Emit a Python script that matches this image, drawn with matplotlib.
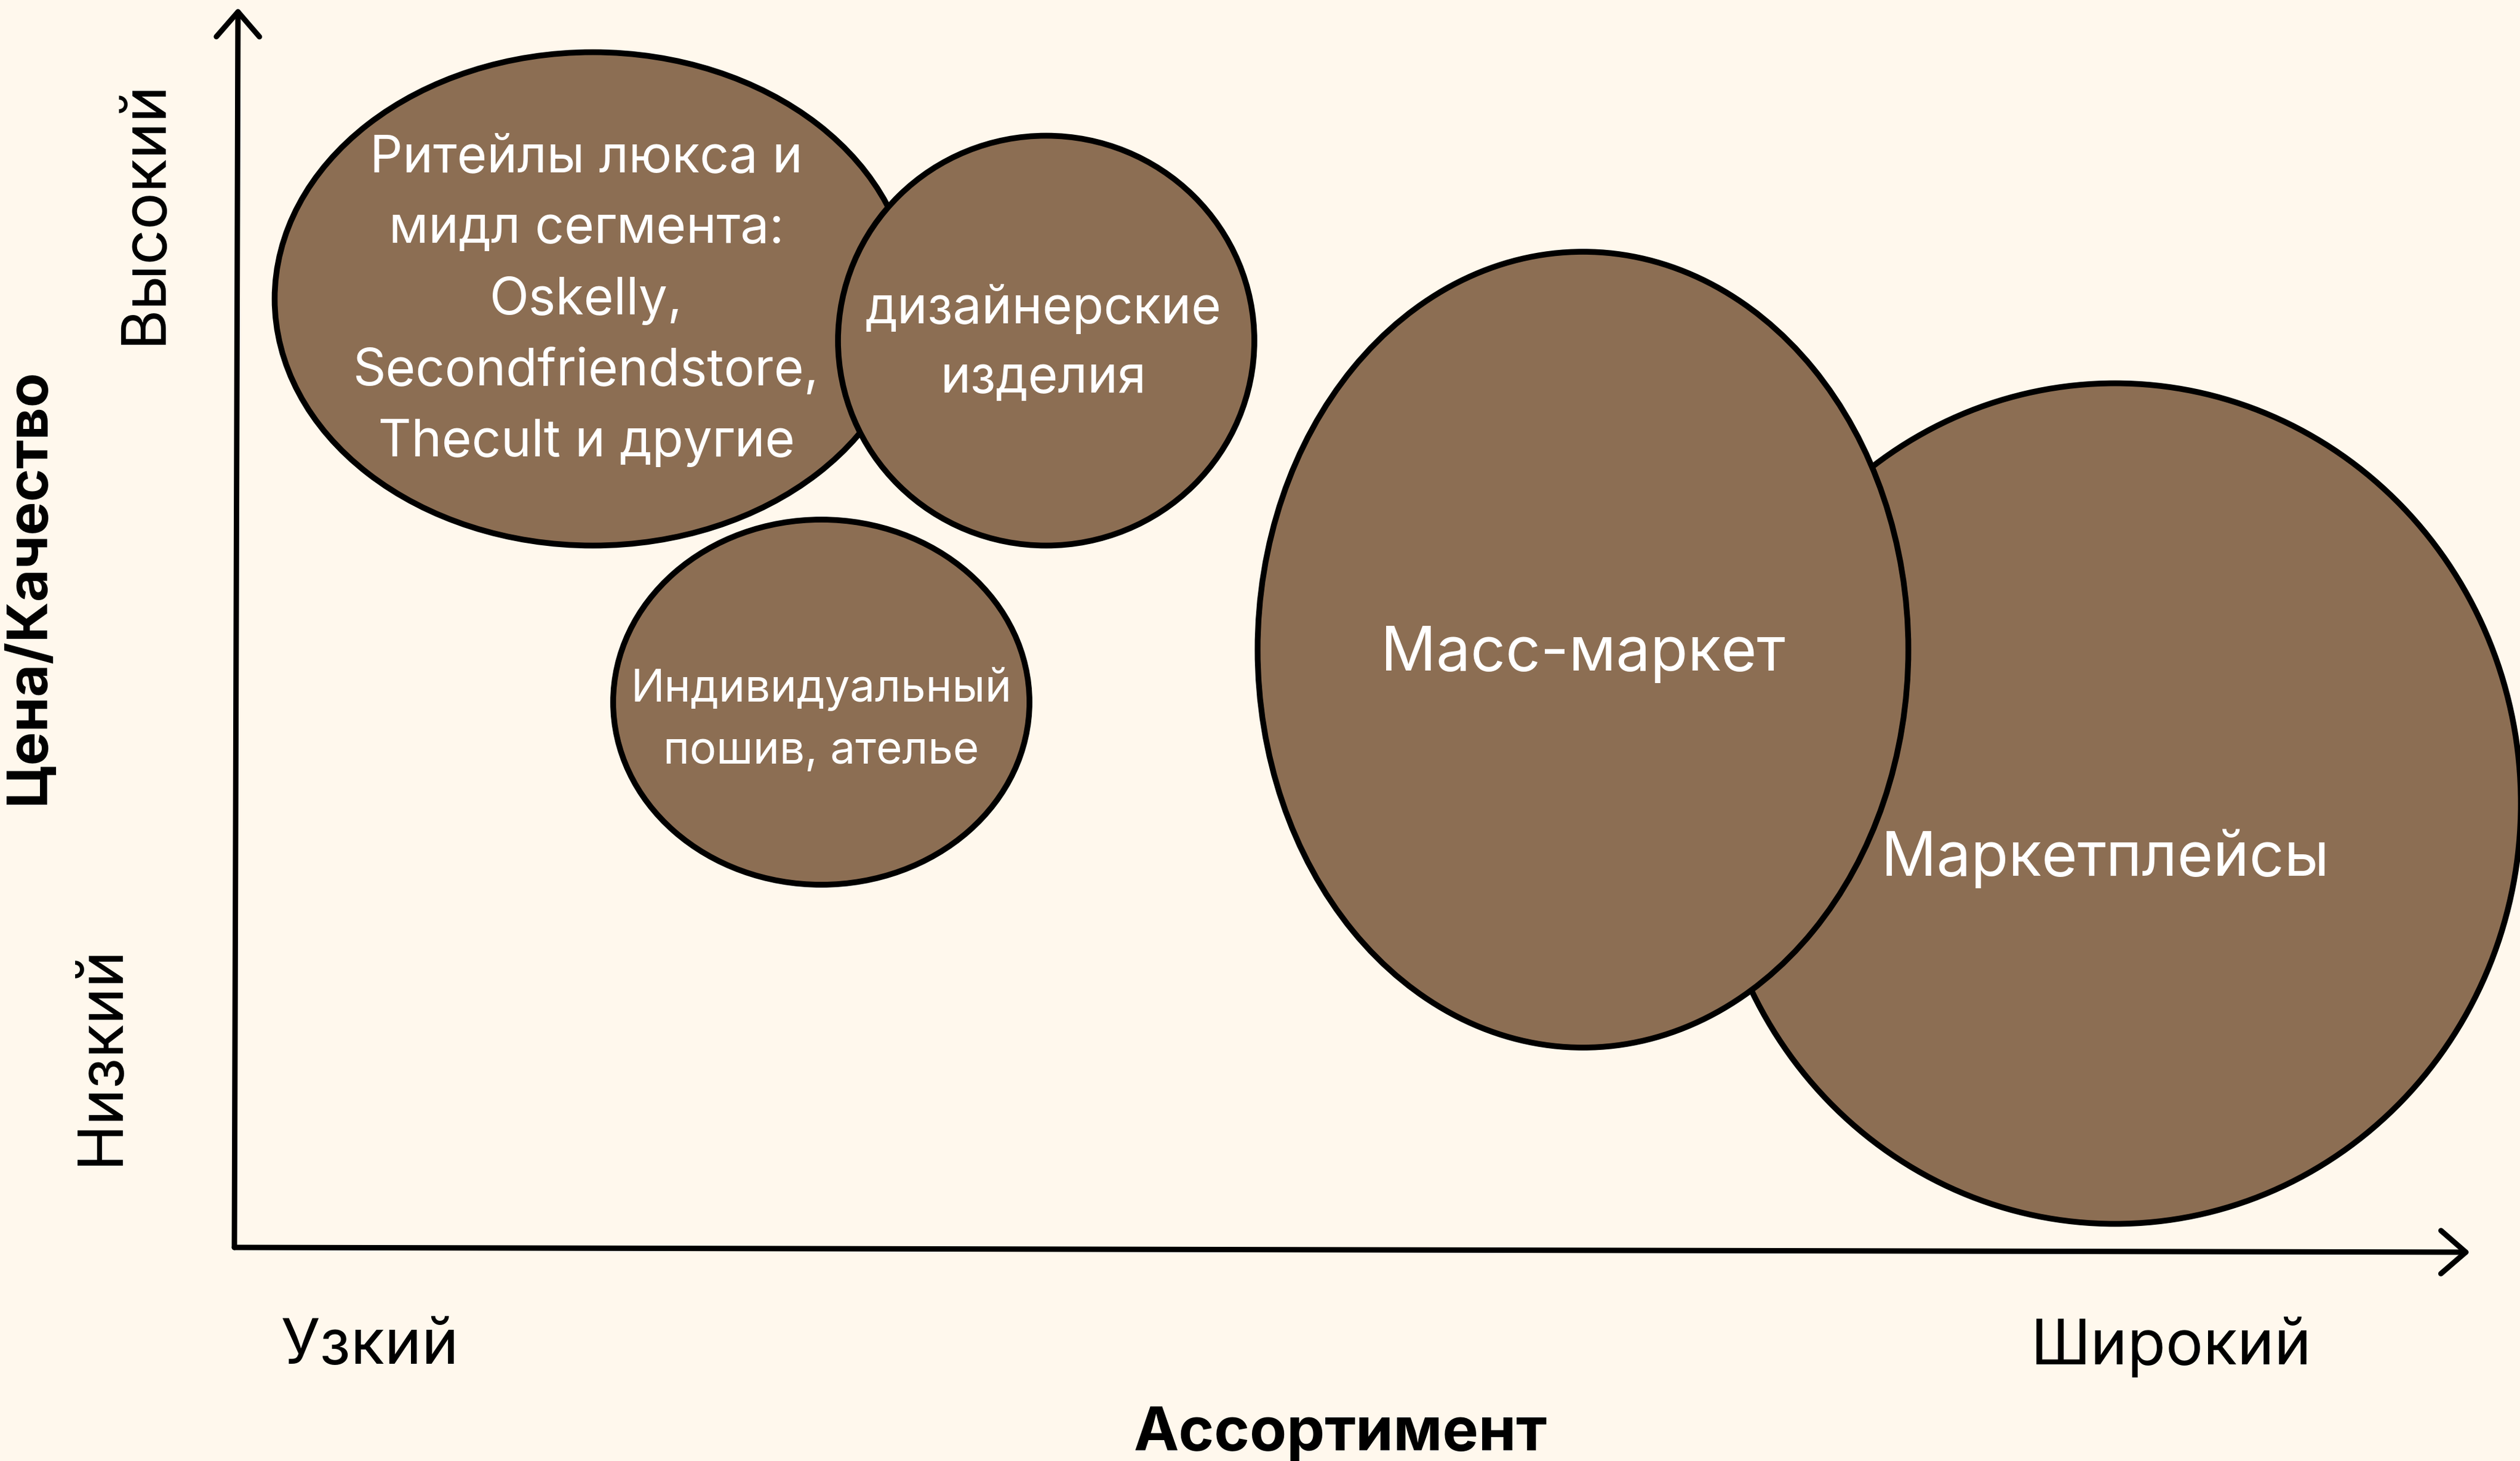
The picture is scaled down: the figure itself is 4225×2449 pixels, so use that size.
import matplotlib.pyplot as plt
from matplotlib.patches import Ellipse

# canvas in pixels (y measured from the bottom)
W, H = 4225, 2449

# segments: label, centre, size
names = ["Маркетплейсы", "Масс-маркет",
         "Ритейлы люкса и\nмидл сегмента:\nOskelly,\nSecondfriendstore,\nThecult и другие",
         "дизайнерские\nизделия",
         "Индивидуальный\nпошив, ателье"]
cx = [3546, 2654, 994, 1754, 1377]
cy = [1102, 1360, 1948, 1878, 1272]
ew = [1361, 1091, 1067, 698, 698]
eh = [1409, 1334, 827, 687, 612]
tx = [3530, 2654, 983, 1749, 1377]
ty = [1010, 1352, 1945, 1873, 1242]
fs = [74, 74, 62, 62, 54]
ls = [1.55, 1.55, 1.6, 1.55, 1.6]

# axis labels
x_lo, x_hi = "Узкий", "Широкий"
y_lo, y_hi = "Низкий", "Высокий"
x_title, y_title = "Ассортимент", "Цена/Качество"

bg = "#FFF8ED"
fill = "#8C6E53"

plt.rcParams['font.family'] = ['Inter', 'DejaVu Sans']

fig = plt.figure(figsize=(W / 100, H / 100), dpi=100, facecolor=bg)
ax = fig.add_axes([0, 0, 1, 1])
ax.set_facecolor(bg)
ax.set_xlim(0, W)
ax.set_ylim(0, H)
ax.axis('off')

for i in range(len(names)):
    e = Ellipse((cx[i], cy[i]), ew[i], eh[i], facecolor=fill,
                edgecolor='black', linewidth=7, zorder=2 + i)
    ax.add_patch(e)
    ax.text(tx[i], ty[i], names[i], color='white', fontsize=fs[i],
            ha='center', va='center', linespacing=ls[i], zorder=2 + i)

# axes arrows
arrow = dict(arrowstyle='->,head_length=0.3,head_width=0.26', lw=6.5,
             color='black', mutation_scale=100, shrinkA=0, shrinkB=0,
             capstyle='round', joinstyle='round')
ax.annotate('', xy=(399, 2436), xytext=(393, 358), arrowprops=arrow, zorder=10)
ax.annotate('', xy=(4141, 350), xytext=(393, 358), arrowprops=arrow, zorder=10)

ax.text(620, 191, x_lo, fontsize=75.5, ha='center', va='center')
ax.text(3640, 191, x_hi, fontsize=75.5, ha='center', va='center')
ax.text(170, 681, y_lo, fontsize=75, rotation=90, ha='center', va='center')
ax.text(243, 2094, y_hi, fontsize=74.5, rotation=90, ha='center', va='center')
ax.text(2247, 44, x_title, fontsize=73, fontweight='bold', ha='center', va='center')
ax.text(49, 1466, y_title, fontsize=68, fontweight='bold', rotation=90,
        ha='center', va='center')

fig.savefig('out.png', dpi=100, facecolor=bg)
